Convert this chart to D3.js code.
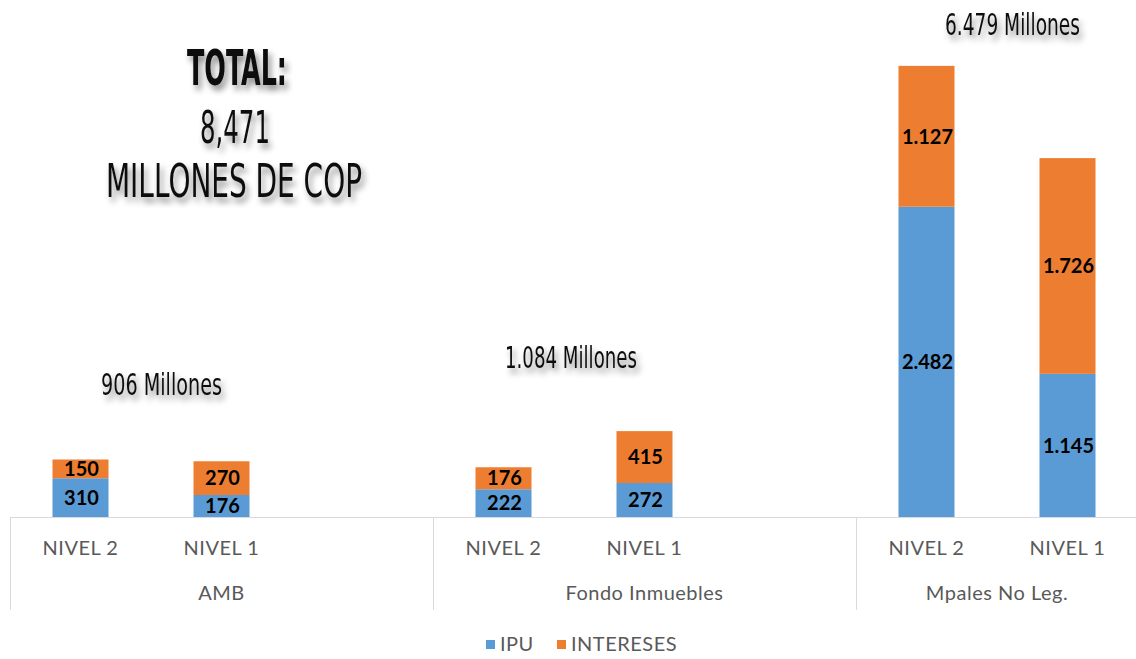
<!DOCTYPE html>
<html>
<head>
<meta charset="utf-8">
<script src="https://cdn.jsdelivr.net/npm/d3@7"></script>
<style>
  body { margin: 0; background: #fff; }
  svg { display: block; }
  .axis-label { font-family: Lato, "Open Sans", sans-serif; fill: #595959; font-size: 20px; letter-spacing: 0.5px; }
  .bar-label { font-family: Lato, sans-serif; font-weight: 700; font-size: 20px; fill: #000; }
  .note { font-family: "DejaVu Sans Condensed", "DejaVu Sans", sans-serif; fill: #111; }
</style>
</head>
<body>
<svg id="chart" width="1136" height="659"></svg>
<script>
// groups and slots (each group has three slots, the last one only two)
const groups = ["AMB", "Fondo Inmuebles", "Mpales No Leg."];
const slots = [
    { group: "AMB", level: "NIVEL 2" },
    { group: "AMB", level: "NIVEL 1" },
    { group: "AMB", level: "" },
    { group: "Fondo Inmuebles", level: "NIVEL 2" },
    { group: "Fondo Inmuebles", level: "NIVEL 1" },
    { group: "Fondo Inmuebles", level: "" },
    { group: "Mpales No Leg.", level: "NIVEL 2" },
    { group: "Mpales No Leg.", level: "NIVEL 1" }
];
const ipu = [310, 176, null, 222, 272, null, 2482, 1145];
const intereses = [150, 270, null, 176, 415, null, 1127, 1726];
const ipuLabels = ["310", "176", "", "222", "272", "", "2.482", "1.145"];
const interesesLabels = ["150", "270", "", "176", "415", "", "1.127", "1.726"];
const seriesNames = ["IPU", "INTERESES"];
const colors = ["#5b9bd5", "#ed7d31"];
const groupTotals = ["906 Millones", "1.084 Millones", "6.479 Millones"];
const totalLines = ["TOTAL:", "8,471", "MILLONES DE COP"];

const svg = d3.select("#chart");

const defs = svg.append("defs");
const shadow = defs.append("filter")
    .attr("id", "shadow")
    .attr("x", "-20%").attr("y", "-40%")
    .attr("width", "140%").attr("height", "200%");
shadow.append("feDropShadow")
    .attr("dx", 3).attr("dy", 5)
    .attr("stdDeviation", 3)
    .attr("flood-color", "#000")
    .attr("flood-opacity", 0.45);

const baseY = 517;
const left = 10;
const slotW = 141;

const x = d3.scaleBand()
    .domain(d3.range(slots.length))
    .range([left, left + slotW * slots.length])
    .paddingInner(0)
    .paddingOuter(0);

const y = d3.scaleLinear()
    .domain([0, 4000])
    .range([baseY, baseY - 500]);

const barW = 56;

// stacked data
const rows = slots.map((s, i) => ({ i, IPU: ipu[i] || 0, INTERESES: intereses[i] || 0 }));
const stacked = d3.stack().keys(seriesNames)(rows);
const labelSets = [ipuLabels, interesesLabels];

stacked.forEach((layer, k) => {
    svg.append("g")
        .selectAll("rect")
        .data(layer.filter(d => d[1] > d[0]))
        .join("rect")
        .attr("x", d => x(d.data.i) + x.bandwidth() / 2 - barW / 2)
        .attr("width", barW)
        .attr("y", d => y(d[1]))
        .attr("height", d => y(d[0]) - y(d[1]))
        .attr("fill", colors[k]);

    svg.append("g")
        .selectAll("text")
        .data(layer.filter(d => d[1] > d[0]))
        .join("text")
        .attr("class", "bar-label")
        .attr("x", d => x(d.data.i) + x.bandwidth() / 2 + 1)
        .attr("y", d => (y(d[0]) + y(d[1])) / 2)
        .attr("dy", "0.36em")
        .attr("text-anchor", "middle")
        .text(d => labelSets[k][d.data.i]);
});

// axis line
const right = left + slotW * slots.length;
svg.append("line")
    .attr("x1", left).attr("x2", right)
    .attr("y1", baseY + 0.5).attr("y2", baseY + 0.5)
    .attr("stroke", "#d9d9d9");

// group separators
const groupStarts = groups.map(g => x(slots.findIndex(s => s.group === g)));
svg.append("g")
    .selectAll("line")
    .data(groupStarts)
    .join("line")
    .attr("x1", d => d + 0.5).attr("x2", d => d + 0.5)
    .attr("y1", baseY).attr("y2", 610)
    .attr("stroke", "#d9d9d9");

// level labels
svg.append("g")
    .selectAll("text")
    .data(slots.map((s, i) => ({ ...s, i })).filter(s => s.level))
    .join("text")
    .attr("class", "axis-label")
    .attr("x", d => x(d.i) + x.bandwidth() / 2)
    .attr("y", 555)
    .attr("text-anchor", "middle")
    .text(d => d.level);

// group labels
svg.append("g")
    .selectAll("text")
    .data(groups)
    .join("text")
    .attr("class", "axis-label")
    .attr("x", g => {
        const idx = slots.map((s, i) => s.group === g ? i : -1).filter(i => i >= 0);
        return (x(idx[0]) + x(idx[idx.length - 1]) + x.bandwidth()) / 2;
    })
    .attr("y", 600)
    .attr("text-anchor", "middle")
    .text(g => g);

// legend
const legend = svg.append("g").attr("transform", "translate(486,651)");
const legendX = [0, 71];
seriesNames.forEach((name, k) => {
    legend.append("rect")
        .attr("x", legendX[k]).attr("y", -11)
        .attr("width", 9).attr("height", 9)
        .attr("fill", colors[k]);
    legend.append("text")
        .attr("class", "axis-label")
        .attr("x", legendX[k] + 14).attr("y", 0)
        .text(name);
});

// annotations with shadow (narrow font imitated by squeezing horizontally)
const noteBoxes = [
    { text: groupTotals[0], x: 101, y: 395, w: 121, size: 30, weight: 400 },
    { text: groupTotals[1], x: 505, y: 368, w: 132, size: 31, weight: 400 },
    { text: groupTotals[2], x: 945, y: 35, w: 135, size: 30, weight: 400 },
    { text: totalLines[0], x: 187, y: 85, w: 100, size: 50, weight: 700 },
    { text: totalLines[1], x: 200, y: 143, w: 70, size: 44, weight: 400 },
    { text: totalLines[2], x: 106, y: 197, w: 256, size: 46, weight: 400 }
];
svg.append("g")
    .attr("filter", "url(#shadow)")
    .selectAll("text")
    .data(noteBoxes)
    .join("text")
    .attr("class", "note")
    .attr("x", 0)
    .attr("y", 0)
    .attr("font-size", d => d.size)
    .attr("font-weight", d => d.weight)
    .text(d => d.text)
    .attr("transform", function(d) {
        const natural = this.getComputedTextLength();
        return `translate(${d.x},${d.y}) scale(${d.w / natural},1)`;
    });
</script>
</body>
</html>
